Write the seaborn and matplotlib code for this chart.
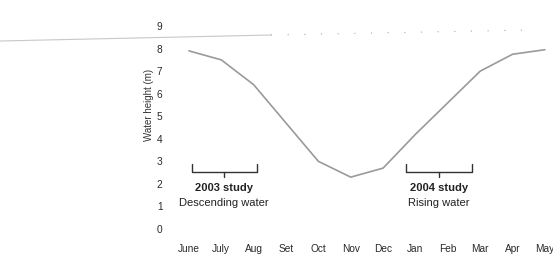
import numpy as np
import pandas as pd
import matplotlib
matplotlib.use('Agg')
import matplotlib.pyplot as plt
from matplotlib.lines import Line2D
import seaborn as sns

months = ['June', 'July', 'Aug', 'Set', 'Oct', 'Nov', 'Dec', 'Jan', 'Feb', 'Mar', 'Apr', 'May']
water_height = [7.9, 7.5, 6.4, 4.7, 3.0, 2.3, 2.7, 4.2, 5.6, 7.0, 7.75, 7.95]
y_ticks = [0, 1, 2, 3, 4, 5, 6, 7, 8, 9]

df = pd.DataFrame({'pos': np.arange(len(months)), 'height': water_height})

sns.set_style('white')
plt.rcParams['font.family'] = ['Liberation Sans', 'DejaVu Sans']

fig = plt.figure(figsize=(5.53, 2.58), dpi=100)
ax = fig.add_axes([0.3165, 0.1124, 0.6835, 0.7866])

sns.lineplot(data=df, x='pos', y='height', ax=ax, color='#9a9a9a', linewidth=1.2)

ax.set_xlim(-0.43, 11.25)
ax.set_ylim(0, 9)
ax.set_xticks(df['pos'])
ax.set_xticklabels(months)
ax.set_yticks(y_ticks)
ax.tick_params(axis='both', length=0, labelsize=7.3, colors='#2a2a2a')
ax.tick_params(axis='x', pad=11)
ax.tick_params(axis='y', pad=9)
ax.set_xlabel('')
ax.set_ylabel('Water height (m)', fontsize=7, color='#333333')
ax.yaxis.set_label_coords(-0.056, 0.61)
for s in ax.spines.values():
    s.set_visible(False)

# study brackets
def bracket(x0, x1, label, sub):
    xm = (x0 + x1) / 2
    ax.plot([x0, x0, x1, x1], [2.9, 2.55, 2.55, 2.9], color='#333333', linewidth=1.0)
    ax.plot([xm, xm], [2.55, 2.3], color='#333333', linewidth=1.0)
    ax.text(xm, 1.8, label, ha='center', va='center', fontsize=8, fontweight='bold', color='#222222')
    ax.text(xm, 1.15, sub, ha='center', va='center', fontsize=8, color='#222222')

bracket(0.08, 2.1, '2003 study', 'Descending water')
bracket(6.7, 8.75, '2004 study', 'Rising water')

# faint scan line along the top
fig.add_artist(Line2D([0, 0.49], [1 - 41 / 258, 1 - 35 / 258], color='#c8c8c8', linewidth=0.8))
fig.add_artist(Line2D([0.49, 0.96], [1 - 35 / 258, 1 - 30 / 258], color='#aaaaaa',
                      linewidth=0.8, linestyle=(0, (1, 14))))

fig.savefig('out.png', dpi=100)
